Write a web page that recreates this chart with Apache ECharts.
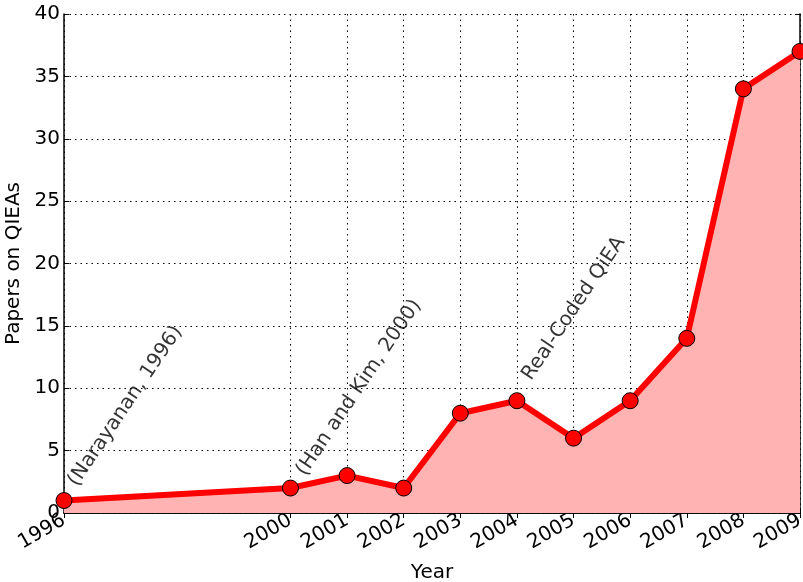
<!DOCTYPE html>
<html>
<head>
<meta charset="utf-8">
<script src="https://cdn.jsdelivr.net/npm/echarts@6/dist/echarts.min.js"></script>
<style>
  html, body { margin: 0; padding: 0; background: #fff; }
  #chart { width: 803px; height: 582px; }
</style>
</head>
<body>
<div id="chart"></div>
<script>
// data
const years = [1996, 2000, 2001, 2002, 2003, 2004, 2005, 2006, 2007, 2008, 2009]
const papers = [1, 2, 3, 2, 8, 9, 6, 9, 14, 34, 37]
const yearTicks = [1996, 2000, 2001, 2002, 2003, 2004, 2005, 2006, 2007, 2008, 2009]
const notes = ['(Narayanan, 1996)', '(Han and Kim, 2000)', 'Real-Coded QiEA']
const noteX = [1996.3, 2000.33, 2004.32]
const noteY = [1.85, 2.7, 10.35]

const font = 'DejaVu Sans'
const chart = echarts.init(document.getElementById('chart'), null, { renderer: 'canvas' })

const frameAxis = {
  axisLine: { show: true, lineStyle: { color: '#000', width: 1.5 } },
  axisTick: { show: true, inside: true, length: 5, lineStyle: { color: '#000', width: 1 } }
}
const gridLine = { show: true, lineStyle: { color: '#000', type: [1.5, 4], width: 1 } }

chart.setOption({
  animation: false,
  textStyle: { fontFamily: font },
  grid: { left: 64, right: 3, top: 14, bottom: 69, containLabel: false, outerBoundsMode: 'none' },
  xAxis: [
    {
      type: 'value',
      min: 1996,
      max: 2009,
      name: 'Year',
      nameLocation: 'middle',
      nameGap: 50,
      nameTextStyle: { fontFamily: font, fontSize: 20, color: '#000' },
      ...frameAxis,
      axisTick: { ...frameAxis.axisTick, customValues: yearTicks },
      axisLabel: {
        customValues: yearTicks,
        rotate: 30,
        fontFamily: font,
        fontSize: 20,
        color: '#000',
        margin: 6,
        formatter: v => String(v)
      },
      splitLine: gridLine
    },
    {
      type: 'value',
      position: 'top',
      min: 1996,
      max: 2009,
      ...frameAxis,
      axisTick: { ...frameAxis.axisTick, customValues: yearTicks },
      axisLabel: { show: false, customValues: yearTicks },
      splitLine: { show: false }
    }
  ],
  yAxis: [
    {
      type: 'value',
      min: 0,
      max: 40,
      interval: 5,
      name: 'Papers on QIEAs',
      nameLocation: 'middle',
      nameGap: 34,
      nameTextStyle: { fontFamily: font, fontSize: 20, color: '#000' },
      ...frameAxis,
      axisLabel: { fontFamily: font, fontSize: 20, color: '#000', margin: 4 },
      splitLine: gridLine
    },
    {
      type: 'value',
      position: 'right',
      min: 0,
      max: 40,
      interval: 5,
      ...frameAxis,
      axisLabel: { show: false },
      splitLine: { show: false }
    }
  ],
  series: [
    {
      type: 'line',
      data: years.map((y, i) => [y, papers[i]]),
      lineStyle: { color: '#ff0000', width: 6 },
      areaStyle: { color: '#ffb3b3', opacity: 1 },
      symbol: 'circle',
      symbolSize: 16,
      showAllSymbol: true,
      itemStyle: { color: '#ff0000', borderColor: '#000', borderWidth: 1 },
      z: 3
    },
    {
      type: 'scatter',
      data: noteX.map((x, i) => [x, noteY[i], notes[i]]),
      symbolSize: 0,
      silent: true,
      label: {
        show: true,
        position: [0, 0],
        rotate: 56,
        align: 'left',
        verticalAlign: 'bottom',
        fontFamily: font,
        fontSize: 20,
        color: '#000',
        formatter: p => p.data[2]
      },
      z: 4
    }
  ]
})
</script>
</body>
</html>
